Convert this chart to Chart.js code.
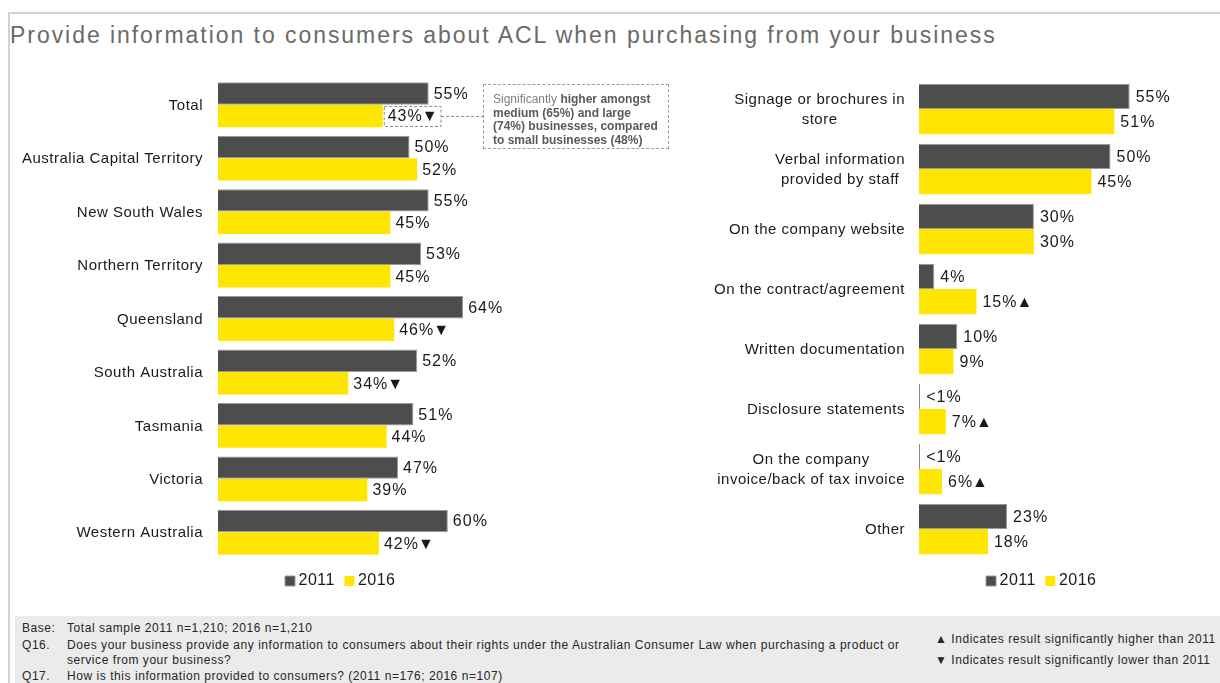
<!DOCTYPE html>
<html>
<head>
<meta charset="utf-8">
<script src="https://cdn.jsdelivr.net/npm/chart.js@4.4.1/dist/chart.umd.min.js"></script>
<style>
  body { margin: 0; width: 1220px; height: 683px; overflow: hidden; background: #fff;
         font-family: "Liberation Sans", Arial, sans-serif; position: relative; }
  .frame { position: absolute; left: 8px; top: 12px; width: 1230px; height: 700px;
           border-left: 2px solid #d2d2d2; border-top: 2px solid #d2d2d2; }
  .title { position: absolute; left: 10px; top: 22px; font-size: 23px; letter-spacing: 1.95px;
           color: #6a6a6a; white-space: nowrap; }
  #leftWrap { position: absolute; left: 15px; top: 60px; width: 675px; height: 547px; }
  #rightWrap { position: absolute; left: 700px; top: 60px; width: 520px; height: 547px; }
  .note { position: absolute; left: 483px; top: 84px; width: 175px; height: 53px;
          border: 1px dashed #9a9a9a; padding: 8px 0 2px 9px; font-size: 12px; line-height: 13.5px;
          color: #5a5a5a; font-weight: bold; white-space: nowrap; }
  .note span { font-weight: normal; color: #808080; }
  .footer { position: absolute; left: 15px; top: 616px; width: 1205px; height: 67px; background: #ebebeb; }
  .ft { position: absolute; font-size: 12px; letter-spacing: 0.55px; color: #262626; white-space: nowrap; }
</style>
</head>
<body>
<div class="frame"></div>
<div class="title">Provide information to consumers about ACL when purchasing from your business</div>

<div id="leftWrap"><canvas id="stateChart"></canvas></div>
<div id="rightWrap"><canvas id="channelChart"></canvas></div>

<div class="note"><span>Significantly </span>higher amongst<br>medium (65%) and large<br>(74%) businesses, compared<br>to small businesses (48%)</div>

<div class="footer">
  <div class="ft" style="left:7px; top:5px;">Base:</div>
  <div class="ft" style="left:52px; top:5px;">Total sample 2011 n=1,210; 2016 n=1,210</div>
  <div class="ft" style="left:7px; top:22px;">Q16.</div>
  <div class="ft" style="left:52px; top:22px;">Does your business provide any information to consumers about their rights under the Australian Consumer Law when purchasing a product or</div>
  <div class="ft" style="left:52px; top:37px;">service from your business?</div>
  <div class="ft" style="left:7px; top:53px;">Q17.</div>
  <div class="ft" style="left:52px; top:53px;">How is this information provided to consumers? (2011 n=176; 2016 n=107)</div>
  <div class="ft" style="left:920px; top:16px;">▲ Indicates result significantly higher than 2011</div>
  <div class="ft" style="left:920px; top:37px;">▼ Indicates result significantly lower than 2011</div>
</div>

<script>
// left chart: by state
const stateLabels = [["Total"], ["Australia Capital Territory"], ["New South Wales"], ["Northern Territory"],
  ["Queensland"], ["South Australia"], ["Tasmania"], ["Victoria"], ["Western Australia"]];
const state2011 = [55, 50, 55, 53, 64, 52, 51, 47, 60];
const state2016 = [43, 52, 45, 45, 46, 34, 44, 39, 42];
const state2016Sig = ["▼", "", "", "", "▼", "▼", "", "", "▼"];

// right chart: how info is provided
const channelLabels = [["Signage or brochures in", "store"], ["Verbal information", "provided by staff"],
  ["On the company website"], ["On the contract/agreement"], ["Written documentation"],
  ["Disclosure statements"], ["On the company", "invoice/back of tax invoice"], ["Other"]];
const channel2011 = [55, 50, 30, 4, 10, 0.3, 0.3, 23];
const channel2016 = [51, 45, 30, 15, 9, 7, 6, 18];
const channel2016Sig = ["", "", "", "▲", "", "▲", "▲", ""];

const FONT = '"Liberation Sans", Arial, sans-serif';
const DARK = "#4d4d4d";
const YELLOW = "#FFE600";

const pct = (v) => (v < 1 ? "<1%" : v + "%");

const spacing = {
  id: "spacing",
  beforeUpdate(chart) { chart.ctx.letterSpacing = "0.5px"; },
  beforeDraw(chart) { chart.ctx.letterSpacing = "0.5px"; }
};

const valueLabels = {
  id: "valueLabels",
  afterDatasetsDraw(chart, args, opts) {
    const ctx = chart.ctx;
    ctx.save();
    ctx.font = "16px " + FONT;
    ctx.letterSpacing = "1px";
    ctx.fillStyle = "#1a1a1a";
    ctx.textBaseline = "middle";
    ctx.textAlign = "left";
    chart.data.datasets.forEach((ds, di) => {
      chart.getDatasetMeta(di).data.forEach((bar, i) => {
        const txt = pct(ds.data[i]);
        const mark = ds.sig ? ds.sig[i] : "";
        const x = bar.x + opts.offset;
        ctx.fillText(txt, x, bar.y + 1);
        let w = ctx.measureText(txt).width - 1;
        if (mark) {
          ctx.fillText(mark, x + w, bar.y + 1);
          w += ctx.measureText(mark).width - 1;
        }
        const h = opts.highlight;
        if (h && h.dataset === di && h.index === i) {
          ctx.strokeStyle = "#8a8a8a";
          ctx.lineWidth = 1;
          ctx.setLineDash([3, 2]);
          ctx.strokeRect(x - 3.5, bar.y - 9.5, w + 7, 20);
          ctx.beginPath();
          ctx.moveTo(x + w + 3.5, bar.y + 0.5);
          ctx.lineTo(h.toX, bar.y + 0.5);
          ctx.stroke();
          ctx.setLineDash([]);
        }
      });
    });
    ctx.restore();
  }
};

// category labels: block right-aligned, lines centred within the block
const blockLabels = {
  id: "blockLabels",
  afterDraw(chart, args, opts) {
    const ctx = chart.ctx;
    const y = chart.scales.y;
    ctx.save();
    ctx.font = "15px " + FONT;
    ctx.letterSpacing = "0.5px";
    ctx.fillStyle = "#1a1a1a";
    ctx.textBaseline = "middle";
    ctx.textAlign = "center";
    const right = chart.chartArea.left - opts.padding;
    chart.data.labels.forEach((lines, i) => {
      const w = Math.max(...lines.map(l => ctx.measureText(l).width));
      const cy = y.getPixelForTick(i);
      const lh = 20;
      lines.forEach((l, k) => {
        ctx.fillText(l, right - w / 2, cy + 1 + (k - (lines.length - 1) / 2) * lh);
      });
    });
    ctx.restore();
  }
};

function baseOptions(yWidth, padTop, padRight, labelPad) {
  return {
    indexAxis: "y",
    responsive: true,
    maintainAspectRatio: false,
    animation: false,
    layout: { padding: { top: padTop, right: padRight, bottom: 8, left: 0 } },
    scales: {
      x: { display: false, min: 0, max: 65 },
      y: {
        grid: { display: false },
        border: { display: false },
        ticks: { display: false },
        afterFit: (s) => { s.width = yWidth; }
      }
    },
    plugins: {
      legend: {
        position: "bottom",
        fullSize: false,
        labels: { usePointStyle: true, pointStyle: "rect", boxWidth: 1, boxHeight: 10, padding: 14,
                  color: "#1a1a1a", font: { size: 16, family: FONT } }
      },
      tooltip: { enabled: false },
      blockLabels: { padding: labelPad }
    }
  };
}

const leftOpts = baseOptions(203, 18, 675 - 203 - 249, 15);
leftOpts.plugins.valueLabels = { offset: 5, highlight: { dataset: 1, index: 0, toX: 468 } };

new Chart(document.getElementById("stateChart"), {
  type: "bar",
  data: {
    labels: stateLabels,
    datasets: [
      { label: "2011", data: state2011, backgroundColor: DARK, borderColor: "#9a9a9a", borderWidth: 1,
        categoryPercentage: 0.84, barPercentage: 1 },
      { label: "2016", data: state2016, sig: state2016Sig, backgroundColor: YELLOW, borderWidth: 0,
        categoryPercentage: 0.84, barPercentage: 1 }
    ]
  },
  options: leftOpts,
  plugins: [spacing, valueLabels, blockLabels]
});

const rightOpts = baseOptions(219, 19, 520 - 219 - 249, 14);
rightOpts.plugins.valueLabels = { offset: 6 };

new Chart(document.getElementById("channelChart"), {
  type: "bar",
  data: {
    labels: channelLabels,
    datasets: [
      { label: "2011", data: channel2011, backgroundColor: DARK, borderColor: "#9a9a9a", borderWidth: 1,
        categoryPercentage: 0.84, barPercentage: 1 },
      { label: "2016", data: channel2016, sig: channel2016Sig, backgroundColor: YELLOW, borderWidth: 0,
        categoryPercentage: 0.84, barPercentage: 1 }
    ]
  },
  options: rightOpts,
  plugins: [spacing, valueLabels, blockLabels]
});
</script>
</body>
</html>
